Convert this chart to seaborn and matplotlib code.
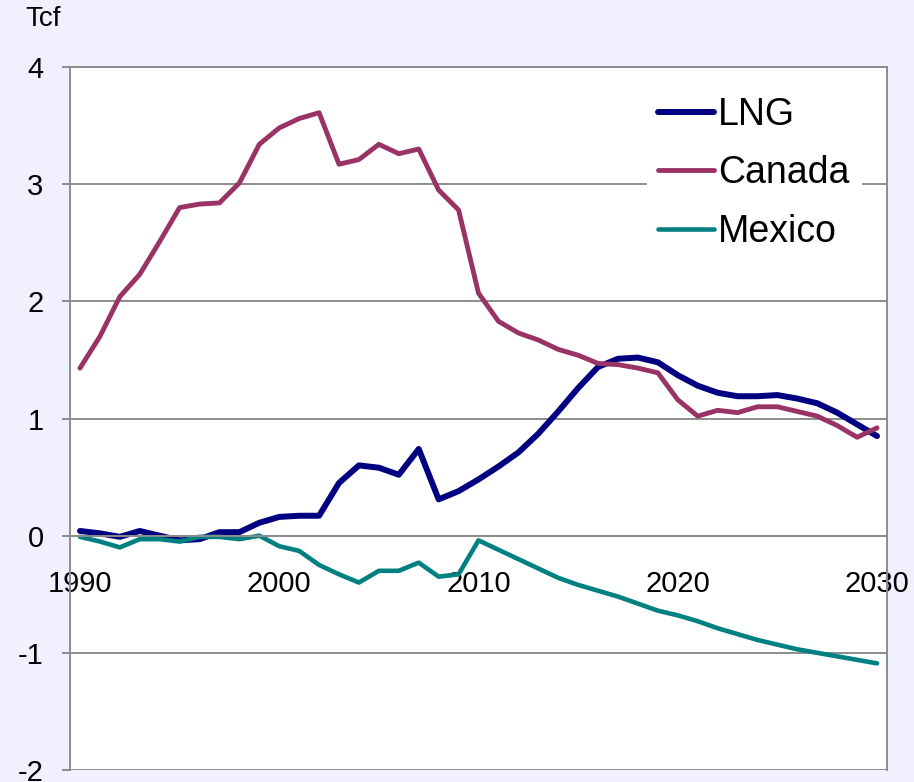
import numpy as np
import pandas as pd
import matplotlib
matplotlib.use("Agg")
import matplotlib.pyplot as plt
from matplotlib.ticker import FixedLocator
import seaborn as sns

years = list(range(1990, 2031))
lng = [0.04, 0.02, -0.01, 0.04, 0.00, -0.04, -0.03, 0.03, 0.03, 0.11,
       0.16, 0.17, 0.17, 0.45, 0.60, 0.58, 0.52, 0.74, 0.31, 0.38,
       0.48, 0.59, 0.71, 0.87, 1.06, 1.26, 1.44, 1.51, 1.52, 1.48,
       1.37, 1.28, 1.22, 1.19, 1.19, 1.20, 1.17, 1.13, 1.05, 0.95, 0.85]
canada = [1.43, 1.70, 2.04, 2.23, 2.51, 2.80, 2.83, 2.84, 3.01, 3.34,
          3.48, 3.56, 3.61, 3.17, 3.21, 3.34, 3.26, 3.30, 2.95, 2.78,
          2.07, 1.83, 1.73, 1.67, 1.59, 1.54, 1.47, 1.46, 1.43, 1.39,
          1.16, 1.02, 1.07, 1.05, 1.10, 1.10, 1.06, 1.02, 0.94, 0.84, 0.92]
mexico = [-0.01, -0.05, -0.10, -0.03, -0.03, -0.05, -0.01, -0.01, -0.03, 0.00,
          -0.09, -0.13, -0.25, -0.33, -0.40, -0.30, -0.30, -0.23, -0.35, -0.33,
          -0.04, -0.12, -0.20, -0.28, -0.36, -0.42, -0.47, -0.52, -0.58, -0.64,
          -0.68, -0.73, -0.79, -0.84, -0.89, -0.93, -0.97, -1.00, -1.03, -1.06, -1.09]
series_names = ["LNG", "Canada", "Mexico"]
colors = {"LNG": "#000080", "Canada": "#993366", "Mexico": "#008080"}
widths = {"LNG": 4.3, "Canada": 3.5, "Mexico": 3.3}
y_ticks = [-2, -1, 0, 1, 2, 3, 4]
x_labels = [1990, 2000, 2010, 2020, 2030]

df = pd.DataFrame({
    "Year": years * 3,
    "Tcf": lng + canada + mexico,
    "Series": ["LNG"] * len(years) + ["Canada"] * len(years) + ["Mexico"] * len(years),
})

sns.set_theme(style="white")
plt.rcParams["font.family"] = ["Liberation Sans", "DejaVu Sans"]
plt.rcParams["text.color"] = "black"
plt.rcParams["xtick.labelcolor"] = "black"
plt.rcParams["ytick.labelcolor"] = "black"

bg = "#F0F0FF"
grid_c = "#8C8C8C"
fig = plt.figure(figsize=(9.14, 7.82), dpi=100, facecolor=bg)
ax = fig.add_axes([70 / 914, 1 - 770 / 782, 817 / 914, 703 / 782])
ax.set_facecolor("white")

for name in series_names:
    sub = df[df["Series"] == name]
    sns.lineplot(data=sub, x="Year", y="Tcf", ax=ax, color=colors[name],
                 linewidth=widths[name], label=name,
                 solid_capstyle="round", solid_joinstyle="round")

ax.set_xlim(1989.5, 2030.5)
ax.set_ylim(-2, 4)
ax.set_yticks(y_ticks)
ax.set_yticklabels([str(v) for v in y_ticks])
ax.yaxis.grid(True, color=grid_c, linewidth=1.4)
ax.set_axisbelow(True)

ax.set_xticks(x_labels)
ax.set_xticklabels([str(v) for v in x_labels])
ax.xaxis.set_minor_locator(FixedLocator(np.arange(1989.5, 2031, 1.0)))
ax.tick_params(axis="x", which="major", length=0, pad=25, labelsize=21, labelcolor="black")
ax.tick_params(axis="x", which="minor", length=6, width=1.2, color=grid_c, direction="out")
ax.tick_params(axis="y", which="major", length=6, width=1.4, color=grid_c, pad=13,
               labelsize=21, labelcolor="black", left=True)

for s in ["left", "right", "top", "bottom"]:
    ax.spines[s].set_color(grid_c)
    ax.spines[s].set_linewidth(1.4)
    ax.spines[s].set_visible(True)
ax.spines["bottom"].set_position(("data", 0))
ax.set_xlabel("")
ax.set_ylabel("")

fig.text(25 / 914, 1 - 19 / 782, "Tcf", fontsize=20, ha="left", va="center", color="black")

leg = ax.legend(loc="center", bbox_to_anchor=(0.837, 0.849), frameon=True,
                fancybox=False, facecolor="white", edgecolor="white", framealpha=1,
                fontsize=27, handlelength=1.5, handletextpad=0.1,
                labelspacing=0.6, borderpad=0.3)
for line in leg.get_lines():
    line.set_solid_capstyle("round")
for t in leg.get_texts():
    t.set_color("black")

fig.savefig("out.png", dpi=100, facecolor=bg)
